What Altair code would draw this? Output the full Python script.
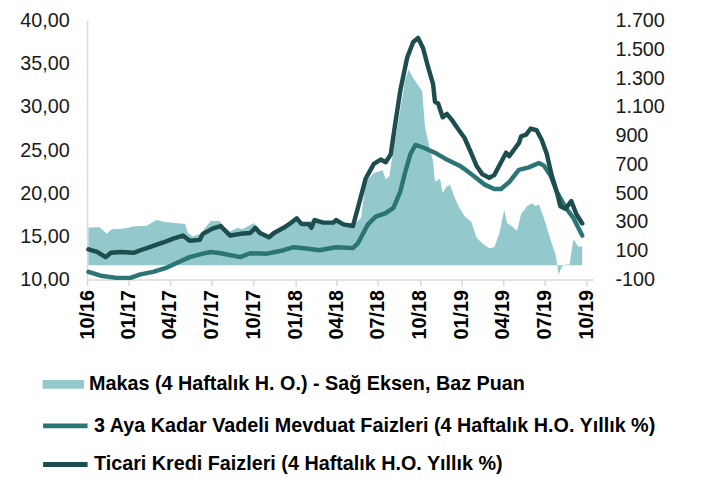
import altair as alt
import pandas as pd

makas_label = "Makas (4 Haftalık H. O.) - Sağ Eksen, Baz Puan"
mevduat_label = "3 Aya Kadar Vadeli Mevduat Faizleri (4 Haftalık H.O. Yıllık %)"
ticari_label = "Ticari Kredi Faizleri (4 Haftalık H.O. Yıllık %)"

ticari_dates = [
    "2016-10-04", "2016-10-23", "2016-11-11", "2016-11-22", "2016-12-14", "2017-01-11",
    "2017-01-26", "2017-02-17", "2017-03-17", "2017-04-08", "2017-04-29", "2017-05-14",
    "2017-06-05", "2017-06-12", "2017-07-03", "2017-07-21", "2017-08-11", "2017-09-02",
    "2017-09-24", "2017-10-05", "2017-10-15", "2017-11-04", "2017-11-15", "2017-12-06",
    "2017-12-19", "2018-01-04", "2018-01-14", "2018-01-30", "2018-02-05", "2018-02-12",
    "2018-03-03", "2018-03-25", "2018-03-31", "2018-04-16", "2018-05-07", "2018-05-18",
    "2018-06-04", "2018-06-22", "2018-07-07", "2018-07-18", "2018-07-29", "2018-08-08",
    "2018-08-19", "2018-09-03", "2018-09-16", "2018-09-27", "2018-10-08", "2018-10-19",
    "2018-10-30", "2018-11-03", "2018-11-10", "2018-11-20", "2018-11-29", "2018-12-10",
    "2018-12-23", "2019-01-07", "2019-01-22", "2019-02-02", "2019-02-15", "2019-03-02",
    "2019-03-13", "2019-03-28", "2019-04-08", "2019-04-15", "2019-04-26", "2019-05-06",
    "2019-05-11", "2019-05-22", "2019-06-01", "2019-06-14", "2019-06-25", "2019-07-06",
    "2019-07-17", "2019-07-28", "2019-08-05", "2019-08-16", "2019-08-29", "2019-09-09",
    "2019-09-22",
]
ticari_vals = [
    13.5, 13.2, 12.6, 13.1, 13.2, 13.1,
    13.4, 13.8, 14.3, 14.75, 15.1, 14.5,
    14.6, 15.3, 15.9, 16.2, 15.1, 15.3,
    15.4, 16.0, 15.4, 14.9, 15.4, 16.0,
    16.45, 17.1, 16.45, 16.45, 16.0, 16.9,
    16.6, 16.6, 16.9, 16.4, 16.2, 18.3,
    21.7, 23.4, 23.9, 23.6, 24.5, 28.1,
    31.9, 35.7, 37.5, 38.0, 36.8, 34.6,
    32.6, 30.6, 30.4, 28.8, 29.2, 28.5,
    27.5, 26.4, 24.6, 23.2, 22.2, 21.8,
    22.1, 23.6, 24.7, 24.3, 25.1, 25.8,
    26.6, 26.8, 27.5, 27.3, 26.2, 24.6,
    22.1, 20.2, 18.5, 18.2, 19.1, 17.6,
    16.5,
]

mevduat_dates = [
    "2016-10-04", "2016-10-31", "2016-12-05", "2017-01-04", "2017-01-26", "2017-02-23",
    "2017-03-23", "2017-04-14", "2017-05-14", "2017-06-12", "2017-06-29", "2017-07-21",
    "2017-09-02", "2017-09-24", "2017-10-31", "2017-12-06", "2017-12-28", "2018-01-25",
    "2018-02-22", "2018-03-31", "2018-05-07", "2018-05-18", "2018-06-09", "2018-06-26",
    "2018-07-18", "2018-08-04", "2018-08-19", "2018-08-30", "2018-09-10", "2018-09-21",
    "2018-10-08", "2018-11-03", "2018-11-29", "2018-12-27", "2019-01-07", "2019-01-29",
    "2019-02-20", "2019-03-13", "2019-03-28", "2019-04-15", "2019-05-06", "2019-05-28",
    "2019-06-19", "2019-06-30", "2019-07-15", "2019-07-28", "2019-08-16", "2019-09-03",
    "2019-09-22",
]
mevduat_vals = [
    10.9, 10.45, 10.2, 10.2, 10.6, 10.9,
    11.35, 11.9, 12.6, 13.0, 13.2, 13.05,
    12.6, 13.05, 13.0, 13.4, 13.75, 13.6,
    13.4, 13.75, 13.65, 14.2, 16.4, 17.3,
    17.7, 18.3, 20.2, 22.5, 24.5, 25.6,
    25.3, 24.7, 23.9, 23.2, 22.8, 21.9,
    21.0, 20.5, 20.5, 21.3, 22.7, 23.0,
    23.5, 23.2, 22.0, 20.2, 18.4, 17.1,
    15.1,
]

makas_dates = [
    "2016-10-04", "2016-10-27", "2016-11-03", "2016-11-13", "2016-11-24", "2016-12-16",
    "2016-12-31", "2017-01-11", "2017-02-08", "2017-03-02", "2017-03-21", "2017-04-12",
    "2017-05-04", "2017-05-10", "2017-05-21", "2017-06-07", "2017-06-29", "2017-07-19",
    "2017-08-05", "2017-08-27", "2017-09-06", "2017-10-02", "2017-10-09", "2017-11-04",
    "2017-12-06", "2017-12-30", "2018-01-19", "2018-02-16", "2018-03-10", "2018-03-31",
    "2018-04-11", "2018-05-07", "2018-05-25", "2018-06-04", "2018-06-22", "2018-07-11",
    "2018-07-18", "2018-07-26", "2018-08-02", "2018-08-15", "2018-08-30", "2018-09-06",
    "2018-09-14", "2018-09-25", "2018-10-06", "2018-10-12", "2018-10-19", "2018-10-30",
    "2018-11-03", "2018-11-14", "2018-11-20", "2018-11-27", "2018-12-06", "2018-12-17",
    "2018-12-27", "2019-01-07", "2019-01-22", "2019-02-02", "2019-02-15", "2019-03-02",
    "2019-03-13", "2019-03-24", "2019-04-04", "2019-04-10", "2019-04-21", "2019-05-02",
    "2019-05-11", "2019-05-24", "2019-06-04", "2019-06-12", "2019-06-19", "2019-06-30",
    "2019-07-15", "2019-07-26", "2019-08-01", "2019-08-08", "2019-08-16", "2019-08-25",
    "2019-09-03", "2019-09-13", "2019-09-22",
]
makas_vals = [
    260, 265, 250, 219, 250, 253,
    260, 270, 273, 315, 301, 294,
    287, 226, 200, 219, 308, 308,
    226, 260, 250, 294, 260, 192,
    253, 328, 287, 328, 290, 321,
    308, 273, 330, 580, 640, 660,
    595, 620, 763, 1007, 1290, 1360,
    1313, 1260, 1211, 966, 860, 720,
    580, 600, 500, 540, 560, 464,
    396, 340, 300, 192, 151, 117,
    124, 219, 385, 294, 270, 240,
    355, 410, 430, 410, 423, 328,
    172, 70, -66, -12, 5, 5,
    180, 130, 130,
]

left_ticks = [10, 15, 20, 25, 30, 35, 40]
right_ticks = [-100, 100, 300, 500, 700, 900, 1100, 1300, 1500, 1700]
x_ticks = [(2016, 10), (2017, 1), (2017, 4), (2017, 7), (2017, 10), (2018, 1), (2018, 4),
           (2018, 7), (2018, 10), (2019, 1), (2019, 4), (2019, 7), (2019, 10)]

FONT = "Liberation Sans"

df_makas = pd.DataFrame({"tarih": makas_dates, "deger": makas_vals, "seri": makas_label})
df_mev = pd.DataFrame({"tarih": mevduat_dates, "deger": mevduat_vals, "seri": mevduat_label})
df_tic = pd.DataFrame({"tarih": ticari_dates, "deger": ticari_vals, "seri": ticari_label})

x_enc = alt.X(
    "tarih:T",
    title=None,
    scale=alt.Scale(type="utc", nice=False,
                    domain=[alt.DateTime(year=2016, month=10, date=1, utc=True),
                            alt.DateTime(year=2019, month=10, date=16, utc=True)]),
    axis=alt.Axis(
        values=[alt.DateTime(year=y, month=m, date=1, utc=True) for y, m in x_ticks],
        labelExpr="utcFormat(datum.value, '%m/%y')",
        labelAngle=270, labelAlign="right", labelBaseline="middle",
        labelFont=FONT, labelFontSize=20, labelFontWeight="bold", labelColor="#000000",
        labelPadding=4, labelOverlap=False, labelFlush=False,
        domainColor="#d9d9d9", domainWidth=1.5,
        tickColor="#d9d9d9", tickWidth=1.5, tickSize=6,
        grid=False,
    ),
)

area = alt.Chart(df_makas).mark_area(interpolate="linear", opacity=1).encode(
    x=x_enc,
    y=alt.Y(
        "deger:Q", title=None,
        scale=alt.Scale(domain=[-100, 1700], nice=False, zero=False),
        axis=alt.Axis(
            orient="right", values=right_ticks, grid=False, ticks=False, domain=False,
            labelExpr="(datum.value < 0 ? '-' : '') + replace(format(abs(datum.value), ','), ',', '.')",
            labelFont=FONT, labelFontSize=20, labelColor="#1a1a1a", labelPadding=22,
        ),
    ),
    y2=alt.datum(0),
    fill=alt.Fill(
        "seri:N",
        scale=alt.Scale(domain=[makas_label], range=["#93C9CC"]),
        legend=alt.Legend(
            title=None, orient="none", legendX=-45, legendY=347,
            symbolType="M-1,-0.214H1V0.214H-1Z", symbolSize=1764, symbolStrokeWidth=0,
            symbolOpacity=1, labelFont=FONT, labelFontSize=20, labelFontWeight="bold",
            labelColor="#000000", labelOffset=5, labelLimit=700, padding=0,
        ),
    ),
)

y_left = alt.Y(
    "deger:Q", title=None,
    scale=alt.Scale(domain=[10, 40], nice=False, zero=False),
    axis=alt.Axis(
        orient="left", values=left_ticks, grid=False, ticks=False,
        domainColor="#d9d9d9", domainWidth=1.5,
        labelExpr="replace(format(datum.value, '.2f'), '.', ',')",
        labelFont=FONT, labelFontSize=20, labelColor="#1a1a1a", labelPadding=18,
    ),
)


def line_layer(df, label, color, legend_y):
    return alt.Chart(df).mark_line(strokeWidth=4.5, strokeJoin="round", strokeCap="round").encode(
        x=x_enc,
        y=y_left,
        stroke=alt.Stroke(
            "seri:N",
            scale=alt.Scale(domain=[label], range=[color]),
            legend=alt.Legend(
                title=None, orient="none", legendX=-47, legendY=legend_y,
                symbolType="stroke", symbolSize=2025, symbolStrokeWidth=5,
                labelFont=FONT, labelFontSize=20, labelFontWeight="bold",
                labelColor="#000000", labelOffset=4, labelLimit=700, padding=0,
            ),
        ),
    )


mev = line_layer(df_mev, mevduat_label, "#2B7576", 385)
tic = line_layer(df_tic, ticari_label, "#1D4D4E", 424)

lines = alt.layer(mev, tic).resolve_scale(stroke="independent")

chart = alt.layer(area, lines).resolve_scale(y="independent").properties(
    width=512, height=262,
    autosize=alt.AutoSizeParams(type="none"),
    padding={"left": 80, "top": 10, "right": 101, "bottom": 200},
    background="#ffffff",
).configure_view(stroke=None)

chart.save("out.html", embed_options={"renderer": "svg", "actions": False})
